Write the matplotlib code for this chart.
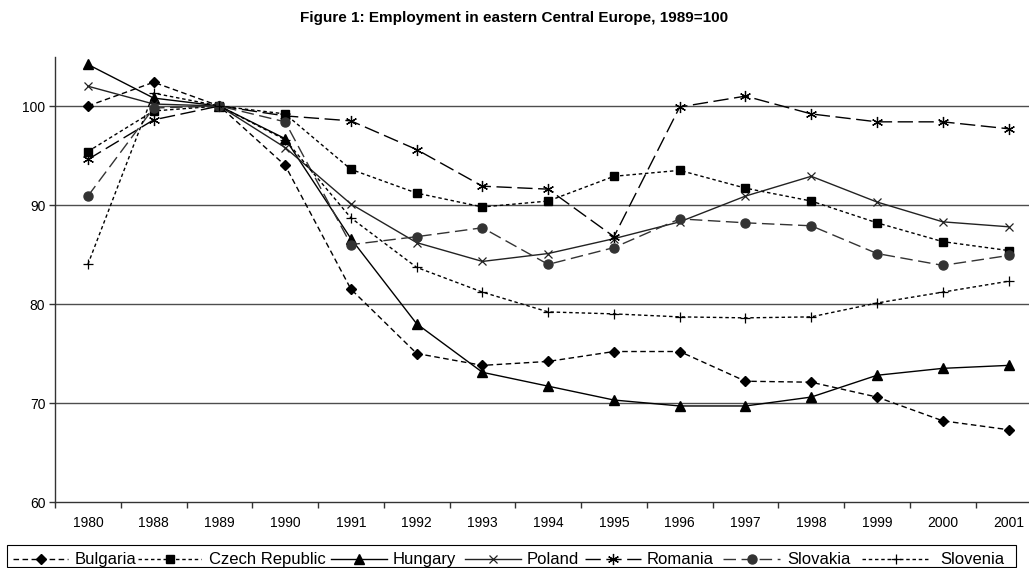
import matplotlib
matplotlib.use("Agg")
import matplotlib.pyplot as plt
from matplotlib.lines import Line2D
from matplotlib.patches import Rectangle
from matplotlib.ticker import FixedLocator, NullFormatter

plt.rcParams["font.family"] = ["Liberation Sans", "DejaVu Sans"]

years = ["1980", "1988", "1989", "1990", "1991", "1992", "1993", "1994",
         "1995", "1996", "1997", "1998", "1999", "2000", "2001"]

bulgaria = [100.0, 102.4, 100.0, 94.0, 81.5, 75.0, 73.8, 74.2,
            75.2, 75.2, 72.2, 72.1, 70.6, 68.2, 67.3]
czech = [95.4, 99.5, 100.0, 99.2, 93.6, 91.2, 89.8, 90.4,
         92.9, 93.5, 91.7, 90.4, 88.2, 86.3, 85.4]
hungary = [104.2, 100.8, 100.0, 96.7, 86.6, 78.0, 73.1, 71.7,
           70.3, 69.7, 69.7, 70.6, 72.8, 73.5, 73.8]
poland = [102.0, 100.2, 100.0, 95.8, 90.1, 86.2, 84.3, 85.1,
          86.6, 88.3, 90.9, 92.9, 90.3, 88.3, 87.8]
romania = [94.6, 98.6, 100.0, 99.0, 98.5, 95.6, 91.9, 91.6,
           86.8, 99.9, 101.0, 99.2, 98.4, 98.4, 97.7]
slovakia = [90.9, 99.8, 100.0, 98.4, 86.0, 86.8, 87.7, 84.0,
            85.7, 88.6, 88.2, 87.9, 85.1, 83.9, 84.9]
slovenia = [84.0, 101.3, 100.0, 96.6, 88.7, 83.7, 81.2, 79.2,
            79.0, 78.7, 78.6, 78.7, 80.1, 81.2, 82.3]

y_ticks = [60, 70, 80, 90, 100]

# (line style, marker style) per country
series = [
    ("Bulgaria", bulgaria,
     dict(color="black", dashes=(4, 2.5)),
     dict(marker="D", ms=5, mfc="black", mec="black")),
    ("Czech Republic", czech,
     dict(color="black", dashes=(2.5, 2)),
     dict(marker="s", ms=6, mfc="black", mec="black")),
    ("Hungary", hungary,
     dict(color="black", linestyle="-"),
     dict(marker="^", ms=7, mfc="black", mec="black")),
    ("Poland", poland,
     dict(color="#222222", linestyle="-"),
     dict(marker="x", ms=6, mew=0.9, mec="#222222")),
    ("Romania", romania,
     dict(color="black", dashes=(11, 4)),
     dict(marker=(6, 2, 0), ms=8, mew=0.9, mec="black")),
    ("Slovakia", slovakia,
     dict(color="#333333", dashes=(9, 4)),
     dict(marker="o", ms=6.5, mfc="#333333", mec="#333333")),
    ("Slovenia", slovenia,
     dict(color="black", dashes=(2.5, 2)),
     dict(marker="+", ms=7, mew=0.9, mec="black")),
]

W, H = 1029, 568
fig = plt.figure(figsize=(W / 100, H / 100), dpi=100)
ax = fig.add_axes([55 / W, 66 / H, (1041.4 - 55) / W, (502 - 56.5) / H])

x = list(range(len(years)))
for name, vals, lstyle, mstyle in series:
    ax.plot(x, vals, lw=1.0, label=name, **lstyle, **mstyle)

ax.set_xlim(-0.5, len(years) - 0.5)
ax.set_ylim(60, 105)

for yv in y_ticks[1:]:
    ax.axhline(yv, color="#4d4d4d", lw=1.0, zorder=0)

ax.set_yticks(y_ticks)
ax.set_xticks(x)
ax.set_xticklabels(years)
ax.xaxis.set_minor_locator(FixedLocator([i + 0.5 for i in range(-1, len(years))]))
ax.xaxis.set_minor_formatter(NullFormatter())
ax.tick_params(axis="x", which="major", length=0, pad=10, labelsize=10)
ax.tick_params(axis="x", which="minor", length=4, width=1, color="#333333")
ax.tick_params(axis="y", which="major", length=4, width=1, color="#333333",
               pad=3, labelsize=10)

for side in ("top", "right"):
    ax.spines[side].set_visible(False)
for side in ("left", "bottom"):
    ax.spines[side].set_color("#333333")
    ax.spines[side].set_linewidth(1.0)

fig.text(0.5, 0.968, "Figure 1: Employment in eastern Central Europe, 1989=100",
         ha="center", va="center", fontsize=11, fontweight="bold")

# Legend row laid out in pixel positions along the bottom of the figure
def fx(px):
    return px / W

def fy(py):
    return 1 - py / H

box_left, box_right, box_top, box_bottom = 7, 1016, 545, 567
fig.patches.append(Rectangle((fx(box_left), fy(box_bottom)),
                             fx(box_right) - fx(box_left),
                             fy(box_top) - fy(box_bottom),
                             transform=fig.transFigure, fill=False,
                             edgecolor="black", lw=0.8))

handle_x = [(13, 68), (138, 201), (331, 387), (465, 521),
            (585, 641), (723, 780), (862, 930)]
text_x = [75, 209, 393, 527, 647, 787, 940]
row_y = 558.5
for (name, vals, lstyle, mstyle), (h0, h1), tx in zip(series, handle_x, text_x):
    fig.lines.append(Line2D([fx(h0), fx(h1)], [fy(row_y), fy(row_y)],
                            transform=fig.transFigure, lw=1.0, **lstyle))
    fig.lines.append(Line2D([fx((h0 + h1) / 2)], [fy(row_y)],
                            transform=fig.transFigure, linestyle="none", **mstyle))
    fig.text(fx(tx), fy(564), name, ha="left", va="baseline", fontsize=12)

fig.savefig("out.png", dpi=100)
